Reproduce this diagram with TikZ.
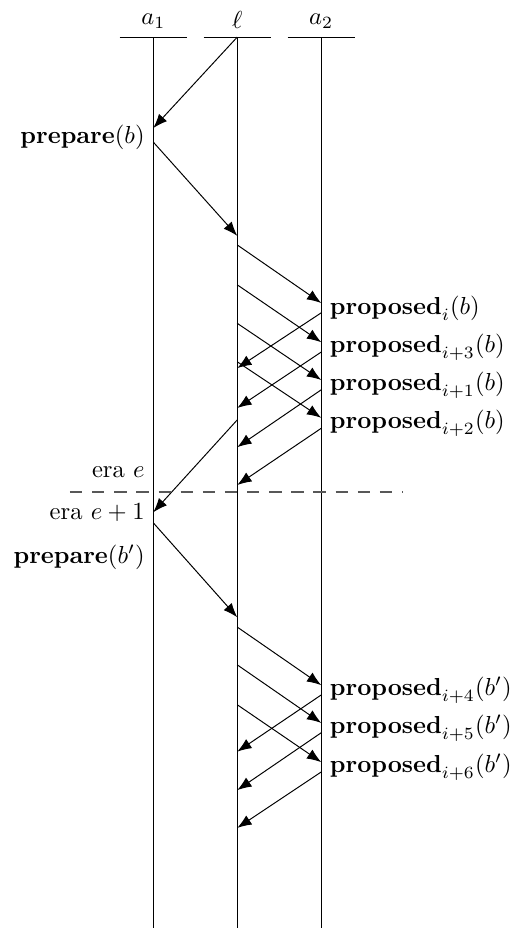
\documentclass[tikz,border=0pt]{standalone}
\usepackage{amsmath,amssymb}
\usepackage{tikz}
\usetikzlibrary{arrows.meta,positioning}
\definecolor{eraGray}{RGB}{88,88,88}
\tikzset{
  msg/.style={-{Latex[length=5.8pt,width=4.4pt]},line width=0.4pt},
  lifeline/.style={line width=0.4pt},
  eraline/.style={eraGray,line width=0.5pt,dash pattern=on 5pt off 4pt}
}

\begin{document}
\begin{tikzpicture}[x=1cm,y=-1cm]
  \useasboundingbox (-2.19,-0.53) rectangle (5.16,12.73);
  % processes
  \foreach \n/\x/\t in {a1/0/a_1, l/1.2/\ell, a2/2.4/a_2}{
    \coordinate (\n top) at (\x,0);
    \coordinate (\n bot) at (\x,12.73);
    \coordinate (\n hl) at (\x-0.48,0);
    \coordinate (\n hr) at (\x+0.48,0);
    \draw[lifeline] (\n hl) -- (\n hr);
    \draw[lifeline] (\n top) -- (\n bot);
    \node[above] (\n name) at (\n top) {$\t$};
  }

  % era e: prepare
  \coordinate (pr0) at (1.2,0);
  \coordinate (pr1) at (0,1.30);
  \draw[msg] (pr0) -- (pr1);
  \node[left] (prep) at (0,1.43) {$\mathbf{prepare}(b)$};
  \coordinate (ok0) at (0,1.50);
  \coordinate (ok1) at (1.2,2.84);
  \draw[msg] (ok0) -- (ok1);

  % proposals, era e
  \foreach \s/\e/\r/\f/\sub [count=\k] in
      {2.97/3.80/3.94/4.73/i, 3.54/4.36/4.50/5.30/{i+3},
       4.09/4.90/5.04/5.86/{i+1}, 4.64/5.44/5.59/6.40/{i+2}}{
    \coordinate (ps\k) at (1.2,\s);
    \coordinate (pe\k) at (2.4,\e);
    \coordinate (rs\k) at (2.4,\r);
    \coordinate (re\k) at (1.2,\f);
    \draw[msg] (ps\k) -- (pe\k);
    \draw[msg] (rs\k) -- (re\k);
    \node[right] (prop\k) at (2.4,{(\e+\r)/2}) {$\mathbf{proposed}_{\sub}(b)$};
  }

  % era change
  \coordinate (nx0) at (1.2,5.47);
  \coordinate (nx1) at (0,6.79);
  \draw[msg] (nx0) -- (nx1);
  \coordinate (eraL) at (-1.19,6.50);
  \coordinate (eraR) at (3.57,6.50);
  \draw[eraline] (eraL) -- (eraR);
  \node[left] (eraold) at (0,6.21) {era $e$};
  \node[left] (eranew) at (0,6.79) {era $e+1$};
  \node[left] (prep2) at (0,7.43) {$\mathbf{prepare}(b')$};
  \coordinate (ok2) at (0,6.94);
  \coordinate (ok3) at (1.2,8.29);
  \draw[msg] (ok2) -- (ok3);

  % proposals, era e+1
  \foreach \s/\e/\r/\f/\sub [count=\k] in
      {8.43/9.26/9.40/10.21/{i+4}, 8.97/9.80/9.94/10.76/{i+5},
       9.54/10.36/10.50/11.30/{i+6}}{
    \coordinate (qs\k) at (1.2,\s);
    \coordinate (qe\k) at (2.4,\e);
    \coordinate (ts\k) at (2.4,\r);
    \coordinate (te\k) at (1.2,\f);
    \draw[msg] (qs\k) -- (qe\k);
    \draw[msg] (ts\k) -- (te\k);
    \node[right] (qprop\k) at (2.4,{(\e+\r)/2}) {$\mathbf{proposed}_{\sub}(b')$};
  }
\end{tikzpicture}
\end{document}
